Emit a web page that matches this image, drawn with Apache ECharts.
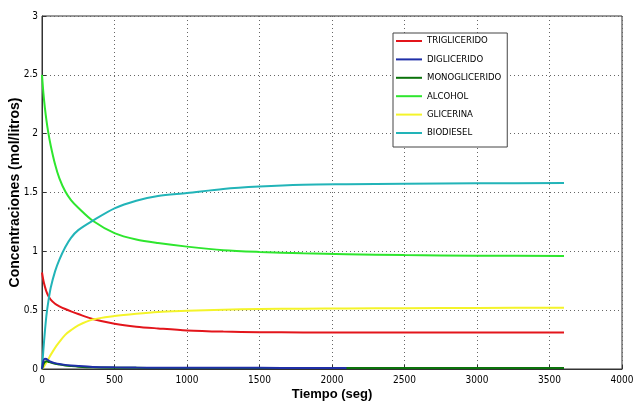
<!DOCTYPE html>
<html>
<head>
<meta charset="utf-8">
<script src="https://cdn.jsdelivr.net/npm/echarts@6/dist/echarts.min.js"></script>
<style>
html,body{margin:0;padding:0;background:#fff;}
#c{width:641px;height:405px;}
</style>
</head>
<body>
<div id="c"></div>
<script>
// Time points (seg)
var tiempo = [0,10,20,30,42,60,90,120,160,200,250,350,500,650,800,1000,1250,1500,1800,2100,2500,3000,3600];
// Series values (mol/litros)
var trigliceridos = [0.82,0.75,0.70,0.66,0.625,0.59,0.555,0.533,0.51,0.49,0.467,0.425,0.385,0.36,0.345,0.328,0.318,0.313,0.311,0.31,0.31,0.31,0.31];
var digliceridos  = [0,0.07,0.088,0.085,0.075,0.062,0.05,0.042,0.035,0.03,0.025,0.018,0.014,0.012,0.011,0.01,0.01,0.01,0.009,0.009,null,null,null];
var monogliceridos= [0,0.04,0.06,0.065,0.062,0.055,0.045,0.038,0.03,0.025,0.02,0.014,0.011,0.01,0.009,0.009,0.008,0.008,0.008,0.008,0.008,0.008,0.008];
var alcohol       = [2.5,2.34,2.22,2.12,2.02,1.90,1.74,1.62,1.51,1.435,1.37,1.26,1.155,1.1,1.07,1.04,1.01,0.995,0.983,0.975,0.968,0.963,0.96];
var glicerina     = [0,0.015,0.035,0.055,0.08,0.12,0.18,0.23,0.29,0.33,0.37,0.42,0.45,0.47,0.485,0.494,0.503,0.51,0.513,0.515,0.517,0.519,0.52];
var biodiesel     = [0,0.17,0.32,0.45,0.56,0.69,0.83,0.93,1.035,1.115,1.18,1.26,1.365,1.43,1.47,1.495,1.53,1.55,1.565,1.57,1.575,1.578,1.58];

var names  = ['TRIGLICERIDO','DIGLICERIDO','MONOGLICERIDO','ALCOHOL','GLICERINA','BIODIESEL'];
var values = [trigliceridos,digliceridos,monogliceridos,alcohol,glicerina,biodiesel];
var colors = ['#e3151b','#1f2fa8','#0b730b','#2ee62e','#f4f42a','#22b4b8'];
var zs     = [2,4,3,2,2,2];

function pairs(v){ return tiempo.map(function(t,i){ return [t, v[i]]; }); }

var narrow = "'Liberation Sans Narrow','DejaVu Sans Condensed','Liberation Sans',sans-serif";

var series = names.map(function(n,i){
  return {
    name:n, type:'line', data:pairs(values[i]), showSymbol:false, smooth:0.3,
    z:zs[i], lineStyle:{color:colors[i], width:2}, itemStyle:{color:colors[i]},
    connectNulls:false, animation:false
  };
});

var chart = echarts.init(document.getElementById('c'));
chart.setOption({
  animation:false,
  backgroundColor:'#fff',
  grid:{left:42, right:19, top:16, bottom:36, containLabel:false, outerBoundsMode:'none',
        show:true, borderColor:'#333', borderWidth:1},
  legend:{
    orient:'vertical', left:393, top:33, itemWidth:26, itemHeight:2, itemGap:6.4,
    icon:'rect', padding:[2,6,8,3], backgroundColor:'#fff', borderColor:'#444', borderWidth:1,
    textStyle:{fontFamily:narrow, fontSize:9.5, color:'#000', lineHeight:12},
    data:names
  },
  xAxis:{
    type:'value', min:0, max:4000, interval:500,
    name:'Tiempo (seg)', nameLocation:'middle', nameGap:19, nameMoveOverlap:false,
    nameTextStyle:{fontFamily:'Liberation Sans, Arial, sans-serif', fontWeight:'bold', fontSize:13, color:'#000'},
    axisLine:{lineStyle:{color:'#333'}},
    axisTick:{inside:true, length:4, lineStyle:{color:'#333'}},
    axisLabel:{fontFamily:narrow, fontSize:10, color:'#000', margin:6, formatter:function(v){return String(v);}},
    splitLine:{show:true, lineStyle:{color:'#666', type:[1,3], width:1}}
  },
  yAxis:{
    type:'value', min:0, max:3, interval:0.5,
    name:'Concentraciones (mol/litros)', nameLocation:'middle', nameGap:20, nameMoveOverlap:false,
    nameTextStyle:{fontFamily:'Liberation Sans, Arial, sans-serif', fontWeight:'bold', fontSize:14, color:'#000'},
    axisLine:{show:true, lineStyle:{color:'#333'}},
    axisTick:{show:true, inside:true, length:4, lineStyle:{color:'#333'}},
    axisLabel:{fontFamily:narrow, fontSize:10, color:'#000', margin:4, formatter:function(v){return String(v);}},
    splitLine:{show:true, lineStyle:{color:'#666', type:[1,3], width:1}}
  },
  series:series
});
</script>
</body>
</html>
